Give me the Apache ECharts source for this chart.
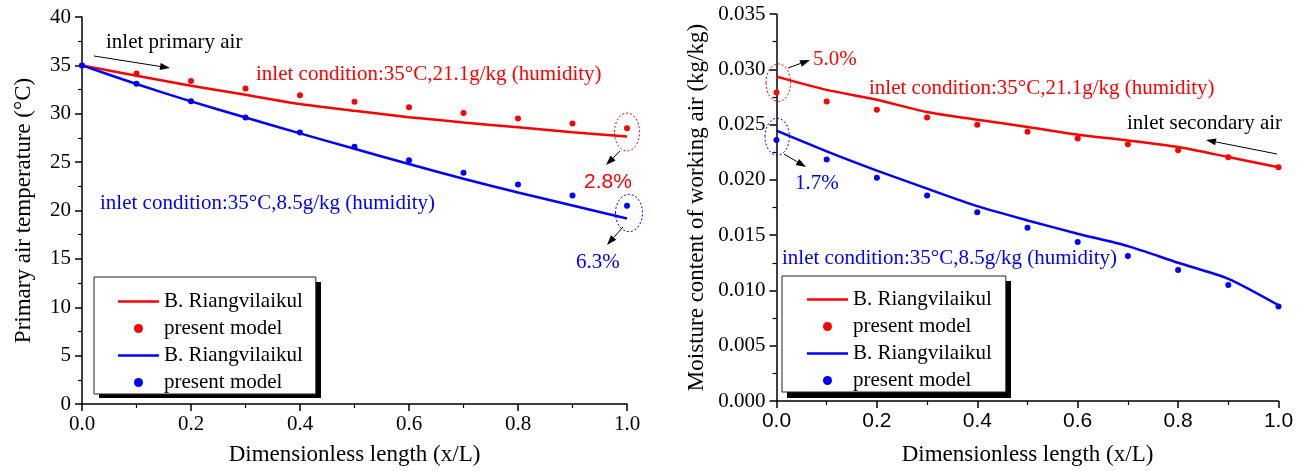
<!DOCTYPE html>
<html>
<head>
<meta charset="utf-8">
<script src="https://cdn.jsdelivr.net/npm/echarts@6/dist/echarts.min.js"></script>
<style>html,body{margin:0;padding:0;background:#fff}#c{width:1309px;height:471px}</style>
</head>
<body>
<div id="c"></div>
<script>
// ---- data ----
var xs = [0, 0.1, 0.2, 0.3, 0.4, 0.5, 0.6, 0.7, 0.8, 0.9, 1.0];
// left: primary air temperature (°C)
var tempRefHigh   = [35, 33.93, 32.9, 31.97, 31.0, 30.3, 29.65, 29.1, 28.6, 28.1, 27.65];
var tempModelHigh = [35, 34.17, 33.38, 32.62, 31.9, 31.24, 30.66, 30.07, 29.52, 29.0, 28.5];
var tempRefLow    = [35, 33.07, 31.28, 29.62, 27.97, 26.38, 24.8, 23.28, 21.86, 20.52, 19.17];
var tempModelLow  = [35, 33.1, 31.3, 29.62, 28.07, 26.6, 25.2, 23.9, 22.7, 21.55, 20.5];
// right: moisture content of working air (kg/kg)
var moistRefHigh   = [0.02934, 0.02814, 0.02724, 0.02613, 0.02544, 0.02478, 0.02408, 0.02357, 0.02297, 0.02207, 0.02114];
var moistModelHigh = [0.0279, 0.02709, 0.02634, 0.02565, 0.02499, 0.02436, 0.02375, 0.02321, 0.02267, 0.02204, 0.02114];
var moistRefLow    = [0.02445, 0.02258, 0.02084, 0.01921, 0.01762, 0.01633, 0.01513, 0.01401, 0.0125, 0.01105, 0.00866];
var moistModelLow  = [0.02361, 0.02183, 0.02018, 0.01858, 0.01708, 0.01567, 0.01437, 0.01311, 0.01184, 0.01049, 0.00854];
var legendLabels = ['B. Riangvilaikul', 'present model', 'B. Riangvilaikul', 'present model'];

function pairs(ys){ return xs.map(function(x,i){ return [x, ys[i]]; }); }

var SERIF = "'Liberation Serif','Times New Roman',serif";
var SANS = "'Liberation Sans',Arial,sans-serif";
var RED = '#ff0000', BLUE = '#0000ff';
var LINE_ICON = 'path://M0,0 L41,0 L41,2.5 L0,2.5 Z';

var chart = echarts.init(document.getElementById('c'), null, {renderer:'canvas'});

function xAxisCfg(gi){
  return {
    gridIndex: gi, type:'value', min:0, max:1, interval:0.2,
    name:'Dimensionless length (x/L)', nameLocation:'middle', nameGap: gi===0 ? 39 : 42,
    nameTextStyle:{fontFamily:SERIF, fontSize:23, color:'#000'},
    axisLine:{show:true, onZero:false, lineStyle:{color:'#000', width:1.5}},
    axisTick:{show:true, inside:false, length:7, lineStyle:{color:'#000', width:1.5}},
    minorTick:{show:true, splitNumber:2, length:4, lineStyle:{color:'#000', width:1.2}},
    splitLine:{show:false}, minorSplitLine:{show:false},
    axisLabel:{fontFamily: gi===0 ? SERIF : SANS, fontSize:21, color:'#000', margin:10,
      formatter:function(v){ return v.toFixed(1); }}
  };
}
function yAxisCfg(gi){
  var left = gi===0;
  return {
    gridIndex: gi, type:'value', min:0, max: left ? 40 : 0.035, interval: left ? 5 : 0.005,
    name: left ? 'Primary air temperature (°C)' : 'Moisture content of working air (kg/kg)',
    nameLocation:'middle', nameGap: left ? 47 : 68,
    nameTextStyle:{fontFamily:SERIF, fontSize:23, color:'#000'},
    axisLine:{show:true, onZero:false, lineStyle:{color:'#000', width:1.5}},
    axisTick:{show:true, inside:false, length:7, lineStyle:{color:'#000', width:1.5}},
    minorTick:{show:true, splitNumber:2, length:4, lineStyle:{color:'#000', width:1.2}},
    splitLine:{show:false}, minorSplitLine:{show:false},
    axisLabel:{fontFamily:SERIF, fontSize:21, color:'#000', margin:11,
      formatter:function(v){ return left ? String(Math.round(v)) : v.toFixed(3); }}
  };
}
function lineS(name, gi, ys, color){
  return {name:name, type:'line', xAxisIndex:gi, yAxisIndex:gi, data:pairs(ys),
    symbol:'none', smooth:0.25, lineStyle:{color:color, width:2.5, opacity:1}, itemStyle:{color:color, opacity:1},
    z:2, animation:false};
}
function dotS(name, gi, ys, color){
  return {name:name, type:'scatter', xAxisIndex:gi, yAxisIndex:gi, data:pairs(ys),
    symbol:'circle', symbolSize:6, itemStyle:{color:color, opacity:1}, z:3, animation:false};
}
function legendCfg(names, left, top, padding){
  return {
    z: 6,
    data: names.map(function(n,i){ return {name:n, icon: i%2===0 ? LINE_ICON : 'circle'}; }),
    orient:'vertical', left:left, top:top, padding:padding, itemGap:6,
    itemWidth:41, itemHeight:9, itemTextGap:6, symbolKeepAspect:true,
    itemStyle:{opacity:1},
    formatter:function(n){ return legendLabels[names.indexOf(n)]; },
    textStyle:{fontFamily:SERIF, fontSize:21, color:'#000'},
    backgroundColor:'#fff', borderColor:'#222', borderWidth:1,
    selectedMode:false
  };
}

function txt(x, y, s, color, font, align){
  return {type:'text', x:x, y:y, silent:true, z:10,
    style:{text:s, fill:color, font:'21px ' + (font||SERIF), textAlign:align||'left', textVerticalAlign:'middle'}};
}
function ell(cx, cy, rx, ry, color){
  return {type:'ellipse', silent:true, z:10, shape:{cx:cx, cy:cy, rx:rx, ry:ry},
    style:{fill:'none', stroke:color, lineWidth:1, lineDash:[2,2]}};
}
function arrow(x1, y1, x2, y2){
  var dx = x2-x1, dy = y2-y1, L = Math.sqrt(dx*dx+dy*dy), ux = dx/L, uy = dy/L;
  var hl = 10, hw = 3.5;
  var bx = x2 - ux*hl, by = y2 - uy*hl;
  return [
    {type:'line', silent:true, z:10, shape:{x1:x1, y1:y1, x2:bx, y2:by}, style:{stroke:'#000', lineWidth:1}},
    {type:'polygon', silent:true, z:10, shape:{points:[[x2,y2],[bx - uy*hw, by + ux*hw],[bx + uy*hw, by - ux*hw]]}, style:{fill:'#000'}}
  ];
}
function shadowRect(x, y, w, h){
  return {type:'rect', silent:true, z:1, shape:{x:x, y:y, width:w, height:h}, style:{fill:'#000'}};
}

var graphics = [
  shadowRect(99, 282, 222, 116),
  shadowRect(787, 281, 224, 117),
  txt(106, 42, 'inlet primary air', '#000'),
  txt(256, 74, 'inlet condition:35°C,21.1g/kg (humidity)', RED),
  txt(100, 203, 'inlet condition:35°C,8.5g/kg (humidity)', BLUE),
  ell(627, 132, 12.5, 19, RED),
  txt(584, 182, '2.8%', RED, SANS),
  ell(629, 213, 13.5, 18.7, BLUE),
  txt(576, 262, '6.3%', BLUE),
  ell(778.3, 82.7, 12.3, 18.8, RED),
  txt(813, 59, '5.0%', RED),
  ell(777.2, 136.7, 12.2, 18.5, BLUE),
  txt(795, 183, '1.7%', BLUE),
  txt(869, 88, 'inlet condition:35°C,21.1g/kg (humidity)', RED),
  txt(782, 258, 'inlet condition:35°C,8.5g/kg (humidity)', BLUE),
  txt(1127, 123, 'inlet secondary air', '#000')
].concat(arrow(94, 56, 170, 68))
 .concat(arrow(620, 151, 606, 165))
 .concat(arrow(623, 227, 607, 245))
 .concat(arrow(788, 68, 810, 60))
 .concat(arrow(784, 154, 806, 167))
 .concat(arrow(1277, 154, 1206, 140));

chart.setOption({
  animation:false,
  backgroundColor:'#fff',
  grid:[
    {left:82, top:17, width:545, height:388},
    {left:776.5, top:14, width:502, height:388}
  ],
  xAxis:[xAxisCfg(0), xAxisCfg(1)],
  yAxis:[yAxisCfg(0), yAxisCfg(1)],
  legend:[
    legendCfg(['L1','L2','L3','L4'], 94, 277, [14,13,1,24]),
    legendCfg(['R1','R2','R3','R4'], 782, 276, [13,14,1,25])
  ],
  series:[
    lineS('L1', 0, tempRefHigh, RED), dotS('L2', 0, tempModelHigh, RED),
    lineS('L3', 0, tempRefLow, BLUE), dotS('L4', 0, tempModelLow, BLUE),
    lineS('R1', 1, moistRefHigh, RED), dotS('R2', 1, moistModelHigh, RED),
    lineS('R3', 1, moistRefLow, BLUE), dotS('R4', 1, moistModelLow, BLUE)
  ],
  graphic: graphics
});
</script>
</body>
</html>
